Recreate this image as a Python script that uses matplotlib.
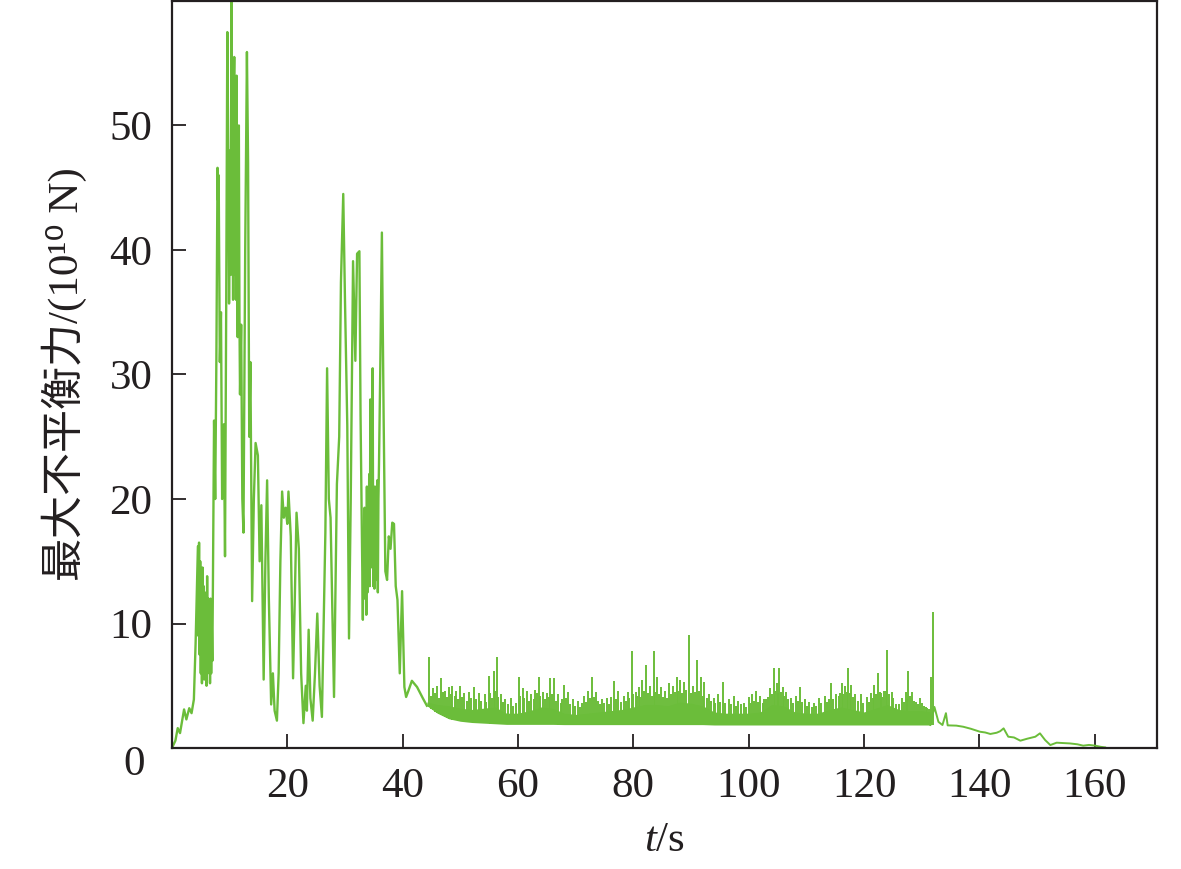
import numpy as np
import matplotlib
matplotlib.use("Agg")
import matplotlib.pyplot as plt
from matplotlib.transforms import ScaledTranslation

plt.rcParams['font.family'] = ['Liberation Serif', 'Noto Sans CJK SC', 'DejaVu Sans']
plt.rcParams['mathtext.fontset'] = 'custom'
plt.rcParams['mathtext.rm'] = 'Liberation Serif'
plt.rcParams['mathtext.it'] = 'Liberation Serif:italic'

GREEN = '#6bbd3a'

# early strongly fluctuating part (t in s, force in 1e10 N)
t_main = [0.0, 0.6, 1.0, 1.4, 2.1, 2.5, 3.0, 3.4, 3.8, 4.1, 4.5, 4.6, 4.7, 4.8, 4.9, 5.0,
          5.1, 5.2, 5.3, 5.4, 5.5, 5.6, 5.7, 5.8, 5.9, 6.0, 6.1, 6.2, 6.3, 6.4, 6.5, 6.6,
          6.7, 6.8, 6.9, 7.0, 7.1, 7.3, 7.5, 7.7, 7.9, 8.0, 8.1, 8.3, 8.5, 8.7,
          9.0, 9.2, 9.4, 9.6, 9.8, 9.9, 10.1, 10.2, 10.3, 10.4, 10.5, 10.6, 10.7, 10.8, 10.9,
          11.0, 11.1, 11.2, 11.3, 11.4, 11.5, 11.6, 11.7,
          11.8, 12.0, 12.2, 12.4, 12.7, 13.0, 13.2, 13.4, 13.6, 13.9, 14.2, 14.5, 14.9,
          15.2, 15.5, 15.9, 16.2, 16.5, 16.8, 17.2, 17.5, 17.8, 18.2, 18.5, 18.8, 19.1,
          19.4, 19.7, 20.0, 20.2, 20.6, 21.0, 21.3, 21.6, 22.0, 22.4, 22.8, 23.2, 23.4,
          23.7, 24.0, 24.4, 24.8, 25.2, 25.6, 26.0, 26.3, 26.6, 26.9, 27.2, 27.5, 28.1,
          28.6, 29.0, 29.3, 29.7, 30.0, 30.4, 30.7, 31.0, 31.4, 31.8, 32.1, 32.5, 32.7,
          33.1, 33.2, 33.3, 33.4, 33.5, 33.6, 33.7, 33.8, 33.9, 34.0, 34.1, 34.2, 34.3,
          34.4, 34.5, 34.6, 34.7, 34.8, 34.9, 35.0, 35.1, 35.2, 35.3, 35.4, 35.5, 35.6,
          35.7, 35.8, 35.9, 36.1, 36.4, 36.7, 37.0, 37.3, 37.6, 37.9, 38.2, 38.5, 38.8, 39.1,
          39.5, 39.9, 40.3, 40.6, 41.0, 41.6, 42.5, 43.5, 44.2]
y_main = [0.0, 0.6, 1.6, 1.2, 3.1, 2.3, 3.2, 2.8, 3.9, 8.4, 16.2, 9.0, 16.5, 7.5, 15.0, 6.0,
          14.0, 5.2, 14.5, 6.5, 13.0, 5.5, 12.5, 7.0, 11.0, 5.0, 13.8, 6.0, 12.0, 6.5, 11.5, 5.2,
          12.0, 6.0, 10.0, 7.0, 13.0, 26.3, 20.0, 31.1, 46.6, 44.0, 46.0, 31.0, 35.0, 20.0,
          26.0, 15.4, 35.0, 57.5, 45.0, 35.7, 48.0, 38.0, 59.9, 42.0, 47.0, 36.0, 52.0, 55.5, 38.0,
          50.0, 36.0, 54.0, 40.0, 33.0, 45.0, 50.0, 35.0,
          28.4, 34.0, 20.0, 17.3, 40.0, 55.9, 47.0, 25.0, 31.0, 11.8, 20.0, 24.5, 23.5,
          15.0, 19.5, 5.5, 15.0, 21.5, 12.0, 3.5, 6.0, 3.0, 2.2, 6.0, 15.0, 20.6,
          18.5, 19.3, 18.0, 20.6, 17.0, 5.6, 12.0, 18.9, 16.0, 6.0, 2.0, 5.0, 3.0,
          9.5, 4.0, 2.2, 6.0, 10.8, 5.0, 2.5, 10.0, 17.3, 30.5, 20.0, 18.5, 4.1,
          21.2, 25.0, 37.4, 44.5, 36.0, 25.9, 8.8, 20.0, 39.1, 31.1, 39.7, 39.9, 26.7,
          10.3, 17.0, 12.0, 19.3, 13.0, 18.0, 10.7, 21.0, 12.5, 19.0, 14.0, 22.0, 13.0,
          28.0, 14.5, 20.0, 16.0, 30.5, 13.0, 20.0, 12.8, 21.0, 15.4, 19.0, 13.5, 21.5,
          12.5, 20.0, 22.8, 29.8, 41.4, 26.7, 14.2, 13.5, 17.0, 16.0, 18.1, 18.0, 13.0, 11.9,
          6.0, 12.6, 4.9, 4.1, 4.6, 5.4, 4.9, 4.0, 3.4]

# dense band 44-132 s: lower and upper edge of the solid region
band_t = [44.2, 46, 48, 50, 52, 54, 56, 58, 60, 62, 64, 66, 68, 70, 72, 74, 76, 78, 80,
          82, 84, 86, 88, 90, 92, 94, 96, 98, 100, 102, 104, 106, 108, 110, 112, 114,
          116, 118, 120, 122, 124, 126, 128, 130, 131.5]
band_lo = [3.4, 2.8, 2.35, 2.15, 2.05, 2.0, 1.95, 1.9, 1.9, 1.9, 1.9, 1.9, 1.88, 1.88,
           1.88, 1.88, 1.88, 1.88, 1.88, 1.88, 1.88, 1.88, 1.88, 1.88, 1.88, 1.85, 1.85,
           1.85, 1.85, 1.85, 1.85, 1.85, 1.85, 1.85, 1.85, 1.85, 1.85, 1.85, 1.85, 1.85,
           1.85, 1.85, 1.85, 1.85, 1.85]
band_hi = [3.7, 3.5, 3.4, 3.2, 3.1, 3.2, 3.3, 2.8, 2.8, 3.0, 3.3, 3.2, 2.8, 2.7, 2.8,
           2.9, 3.0, 3.1, 3.3, 3.5, 3.5, 3.4, 3.7, 3.6, 3.4, 2.9, 2.8, 2.8, 2.8, 2.9,
           3.5, 3.4, 2.9, 2.8, 2.8, 3.1, 3.3, 3.1, 2.9, 3.2, 3.5, 3.1, 3.0, 3.0, 2.9]

# isolated tall spikes rising out of the band
spike_t = [44.5, 45.3, 46.0, 46.7, 47.4, 48.0, 48.6, 49.3, 49.9, 50.7, 51.5, 52.3, 53.2,
           54.2, 54.9, 55.8, 56.3, 57.0, 57.8, 58.8, 60.1, 60.8, 61.6, 62.3, 63.0, 63.6,
           64.4, 65.0, 65.6, 66.2, 67.0, 68.0, 68.6, 69.5, 70.4, 71.5, 72.2, 72.9, 73.6,
           74.5, 75.4, 76.7, 77.4, 78.3, 79.0, 79.7, 80.4, 81.0, 81.5, 82.2, 82.9, 83.5,
           84.1, 84.8, 85.5, 86.2, 86.9, 87.5, 88.1, 88.8, 89.7, 90.4, 91.1, 91.7, 92.3,
           93.2, 93.9, 94.6, 95.5, 96.5, 97.4, 98.2, 99.2, 100.0, 100.6, 101.3, 102.0,
           103.0, 103.7, 104.4, 104.9, 105.3, 105.9, 106.5, 107.3, 108.2, 108.9, 109.8,
           110.5, 111.3, 112.2, 113.2, 114.3, 115.2, 116.1, 116.7, 117.2, 117.8, 118.5,
           119.4, 120.5, 121.2, 121.8, 122.4, 123.0, 123.5, 124.0, 124.8, 125.6, 126.5,
           127.2, 127.7, 128.3, 129.0, 129.7, 130.4, 131.0, 131.6, 131.9]
spike_y = [7.3, 4.8, 5.0, 5.6, 4.6, 4.9, 5.0, 4.6, 5.0, 4.4, 4.5, 4.9, 4.4,
           4.3, 5.8, 6.2, 7.3, 4.3, 3.9, 4.0, 5.7, 4.8, 4.6, 4.3, 4.7, 5.7,
           4.5, 4.4, 5.6, 5.6, 4.3, 5.1, 4.5, 3.9, 3.8, 4.2, 4.6, 5.7, 4.5,
           3.9, 4.0, 5.4, 4.6, 4.2, 4.5, 7.8, 4.5, 4.9, 5.5, 6.7, 5.0, 7.8,
           5.7, 4.9, 4.6, 5.2, 5.0, 5.7, 5.5, 5.3, 9.1, 5.0, 7.1, 5.7, 5.3,
           4.3, 4.0, 4.3, 5.3, 3.9, 4.2, 3.8, 3.6, 4.1, 4.3, 4.6, 4.2,
           3.9, 4.8, 6.4, 5.2, 6.4, 4.9, 4.5, 4.0, 4.2, 4.9, 3.9,
           3.7, 3.6, 4.0, 4.2, 5.2, 4.3, 5.2, 5.0, 6.4, 5.1, 4.3,
           4.3, 4.1, 4.4, 5.1, 6.0, 4.4, 4.6, 7.9, 4.5, 3.5, 4.0,
           4.5, 6.2, 4.5, 3.7, 4.0, 3.4, 3.2, 5.7, 10.9]

# shorter spikes that make up the ragged top of the band
minor_t = [44.9, 45.6, 46.3, 47.0, 47.7, 48.3, 49.0, 49.6, 50.3, 51.1, 51.9, 52.7, 53.6,
           54.5, 55.2, 55.5, 56.0, 56.6, 57.4, 58.2, 59.2, 59.7, 60.4, 61.1, 61.9, 62.7,
           63.3, 63.9, 64.7, 65.3, 65.9, 66.6, 67.4, 67.7, 68.3, 69.0, 69.9, 70.8, 71.1,
           71.8, 72.5, 73.2, 73.9, 74.2, 74.9, 75.8, 76.2, 77.0, 77.8, 78.7, 79.3, 80.0,
           80.7, 81.2, 81.8, 82.5, 83.2, 83.8, 84.4, 85.1, 85.8, 86.5, 87.2, 87.8, 88.4,
           89.2, 90.0, 90.7, 91.4, 92.0, 92.7, 93.5, 94.2, 95.0, 95.9, 96.9, 97.8, 98.7,
           99.6, 100.3, 101.0, 101.6, 102.4, 102.7, 103.4, 104.1, 104.6, 105.1, 105.6,
           106.2, 106.9, 107.7, 108.5, 109.3, 110.1, 110.9, 111.7, 112.6, 113.6, 113.9,
           114.7, 115.6, 115.9, 116.4, 117.0, 117.5, 118.1, 118.9, 119.9, 120.9, 121.5,
           122.1, 122.7, 123.2, 123.8, 124.4, 125.1, 126.0, 126.9, 127.4, 128.0, 128.7,
           129.3, 130.0, 130.7, 131.3]
minor_y = [4.2, 4.4, 4.0, 4.5, 4.1, 4.3, 4.2, 3.9, 4.1, 3.8, 4.0, 3.9, 3.8,
           3.7, 4.4, 4.0, 4.6, 4.1, 3.7, 3.5, 3.4, 3.6, 4.2, 4.0, 3.8, 3.9,
           4.4, 4.2, 3.9, 4.1, 4.3, 3.8, 3.6, 3.9, 4.0, 3.5, 3.4, 3.3, 3.6,
           3.7, 4.0, 4.1, 3.8, 3.5, 3.6, 3.5, 4.1, 3.9, 3.7, 3.8, 4.0, 4.3,
           4.2, 4.1, 4.6, 4.4, 4.2, 4.5, 4.3, 4.1, 4.0, 4.3, 4.5, 4.6, 4.4,
           4.7, 4.4, 4.5, 4.6, 4.2, 4.0, 3.8, 3.6, 3.7, 3.6, 3.5, 3.4, 3.5,
           3.3, 3.6, 3.8, 3.7, 3.6, 3.9, 4.1, 4.3, 4.6, 4.4, 4.5,
           4.2, 3.9, 3.6, 3.8, 3.7, 3.4, 3.3, 3.4, 3.6, 3.7, 3.9,
           3.9, 4.2, 4.4, 4.3, 4.5, 4.4, 4.1, 3.8, 3.6, 3.7, 4.0,
           4.3, 4.5, 4.1, 4.6, 4.3, 4.0, 3.5, 3.7, 3.9, 4.2, 3.8,
           3.5, 3.6, 3.3, 3.1]

# decaying tail
t_tail = [131.5, 132.2, 132.9, 133.6, 134.2, 134.5, 136.0, 137.2, 138.5, 140.1, 141.0, 141.9,
          143.0, 143.6, 144.2, 145.0, 146.0, 147.1, 148.3, 149.7, 150.5, 151.4, 152.3,
          153.4, 154.5, 155.7, 157.0, 158.0, 159.0, 160.1, 161.0, 161.8]
y_tail = [1.85, 3.3, 2.1, 1.85, 2.8, 1.82, 1.8, 1.71, 1.55, 1.31, 1.25, 1.13,
          1.23, 1.35, 1.58, 0.91, 0.85, 0.59, 0.75, 0.91, 1.18, 0.64, 0.24,
          0.43, 0.4, 0.37, 0.3, 0.19, 0.25, 0.19, 0.1, 0.05]

fig = plt.figure(figsize=(11.81, 8.69), dpi=100)
ax = fig.add_axes([0.1456, 0.1392, 0.8341, 0.8597])

LW = 1.7
ax.plot(t_main, y_main, color=GREEN, lw=LW)
ax.fill_between(band_t, band_lo, band_hi, color=GREEN, lw=0)
ax.vlines(minor_t, np.interp(minor_t, band_t, band_lo), minor_y, color=GREEN, lw=1.4)
ax.vlines(spike_t, np.interp(spike_t, band_t, band_lo), spike_y, color=GREEN, lw=1.4)
ax.plot(t_tail, y_tail, color=GREEN, lw=1.4)

ax.set_xlim(0, 170.8)
ax.set_ylim(0, 60)
ax.set_xticks([20, 40, 60, 80, 100, 120, 140, 160])
ax.set_yticks([0, 10, 20, 30, 40, 50])
ax.tick_params(direction='in', length=10, width=1.3, labelsize=31, colors='#231f20')
ax.tick_params(axis='x', pad=14)
ax.tick_params(axis='y', pad=14)
for s in ax.spines.values():
    s.set_linewidth(1.6)
    s.set_color('#231f20')

# the origin "0" sits slightly below and left of its tick in the original
lab0 = ax.get_yticklabels()[0]
lab0.set_transform(lab0.get_transform() + ScaledTranslation(-8 / 100, -12 / 100, fig.dpi_scale_trans))

ax.set_xlabel('$t$/s', fontsize=31, labelpad=11, color='#231f20')
ax.set_ylabel('最大不平衡力/(10¹⁰ N)', fontsize=31, labelpad=16, color='#231f20')

fig.savefig('out.png', dpi=100)
plt.close(fig)
